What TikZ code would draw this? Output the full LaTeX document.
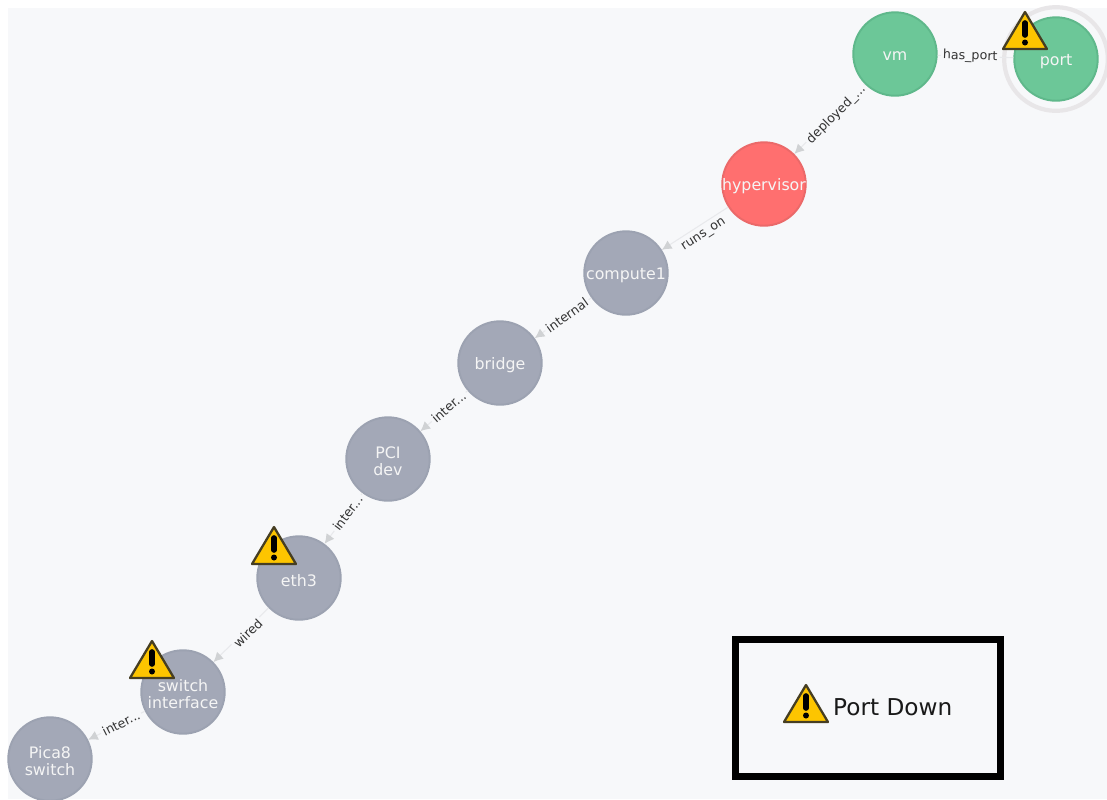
\documentclass[tikz,border=0pt]{standalone}
\usepackage{fontspec}
\setmainfont{DejaVu Sans}
\usetikzlibrary{arrows.meta,calc}
\definecolor{PageGray}{RGB}{247,248,250}
\definecolor{HostGray}{RGB}{163,168,183}
\definecolor{HostLine}{RGB}{156,162,177}
\definecolor{VmGreen}{RGB}{108,199,152}
\definecolor{VmLine}{RGB}{95,184,139}
\definecolor{AlarmRed}{RGB}{255,111,111}
\definecolor{AlarmLine}{RGB}{235,105,105}
\definecolor{EdgeGray}{RGB}{208,210,212}
\definecolor{EdgeFaint}{RGB}{232,233,236}
\definecolor{HaloGray}{RGB}{232,230,232}
\definecolor{WarnYellow}{RGB}{253,197,0}
\definecolor{WarnLine}{RGB}{70,62,34}
\tikzset{
  host/.style={circle,draw=HostLine,fill=HostGray,line width=1.1pt,minimum size=47.5pt,inner sep=0pt},
  vmnode/.style={host,draw=VmLine,fill=VmGreen},
  alarm/.style={host,draw=AlarmLine,fill=AlarmRed},
  hosttext/.style={yshift=-1.2pt,inner sep=0pt,text=white!96!black,align=center,font=\fontsize{9}{9.4}\selectfont},
  link/.style={-{Latex[length=5.5pt,width=5.5pt,color=EdgeGray]},EdgeFaint,line width=.6pt},
  linktext/.style={sloped,fill=PageGray,text=black!80,inner sep=1.2pt,font=\fontsize{7.2}{7.6}\selectfont},
  warnsign/.pic={
    \draw[fill=WarnYellow,draw=WarnLine,line width=1.3pt,line join=round] (0,0)--(22,37)--(-22,37)--cycle;
    \draw[line width=3.2pt,line cap=round] (0,11)--(0,23);
    \fill (0,30.5) circle (3);
  }
}
\begin{document}
\begin{tikzpicture}[x=.02cm,y=-.02cm]
\useasboundingbox (0,0) rectangle (1107,799);
\fill[white] (0,0) rectangle (1107,799);
\fill[PageGray] (8,8) rectangle (1107,799);
% graph
\node[circle,draw=HaloGray,line width=2.4pt,minimum size=59pt,inner sep=0pt] (porthalo) at (1056,59){};
\node[vmnode,label={[hosttext]center:vm}] (vm) at (895,54){};
\node[vmnode,label={[hosttext]center:port}] (port) at (1056,59){};
\node[alarm,label={[hosttext]center:hypervisor}] (hypervisor) at (764,184){};
\node[host,label={[hosttext]center:compute1}] (compute) at (626,273){};
\node[host,label={[hosttext]center:bridge}] (bridge) at (500,363){};
\node[host,label={[hosttext]center:PCI\\dev}] (pci) at (388,459){};
\node[host,label={[hosttext]center:eth3}] (eth) at (299,578){};
\node[host,label={[hosttext]center:switch\\interface}] (switchif) at (183,692){};
\node[host,label={[hosttext]center:Pica8\\switch}] (pica) at (50,759){};
\draw[EdgeFaint,line width=.6pt] (vm)--node[linktext,pos=.43]{has\_port} (port);
\draw[link] (vm)--node[linktext,pos=.42,yshift=-1pt]{deployed\_...} (hypervisor);
\draw[link] (hypervisor)--node[linktext,pos=.45,yshift=-6pt]{runs\_on} (compute);
\draw[link] (compute)--node[linktext,pos=.43]{internal} (bridge);
\draw[link] (bridge)--node[linktext,pos=.4]{inter...} (pci);
\draw[link] (pci)--node[linktext,pos=.39]{inter...} (eth);
\draw[link] (eth)--node[linktext,pos=.42,yshift=-2pt]{wired} (switchif);
\draw[link] (switchif)--node[linktext,pos=.42]{inter...} (pica);
% warnings
\pic at (1025,12){warnsign};
\pic at (274,527){warnsign};
\pic at (152,641){warnsign};
% legend
\draw[line width=4pt] (735.5,639.5) rectangle (1000.5,776.5);
\pic at (806,685){warnsign};
\node[anchor=west,font=\fontsize{13.2}{14}\selectfont,text=black!90] (legend) at (827,707){Port Down};
\end{tikzpicture}
\end{document}
